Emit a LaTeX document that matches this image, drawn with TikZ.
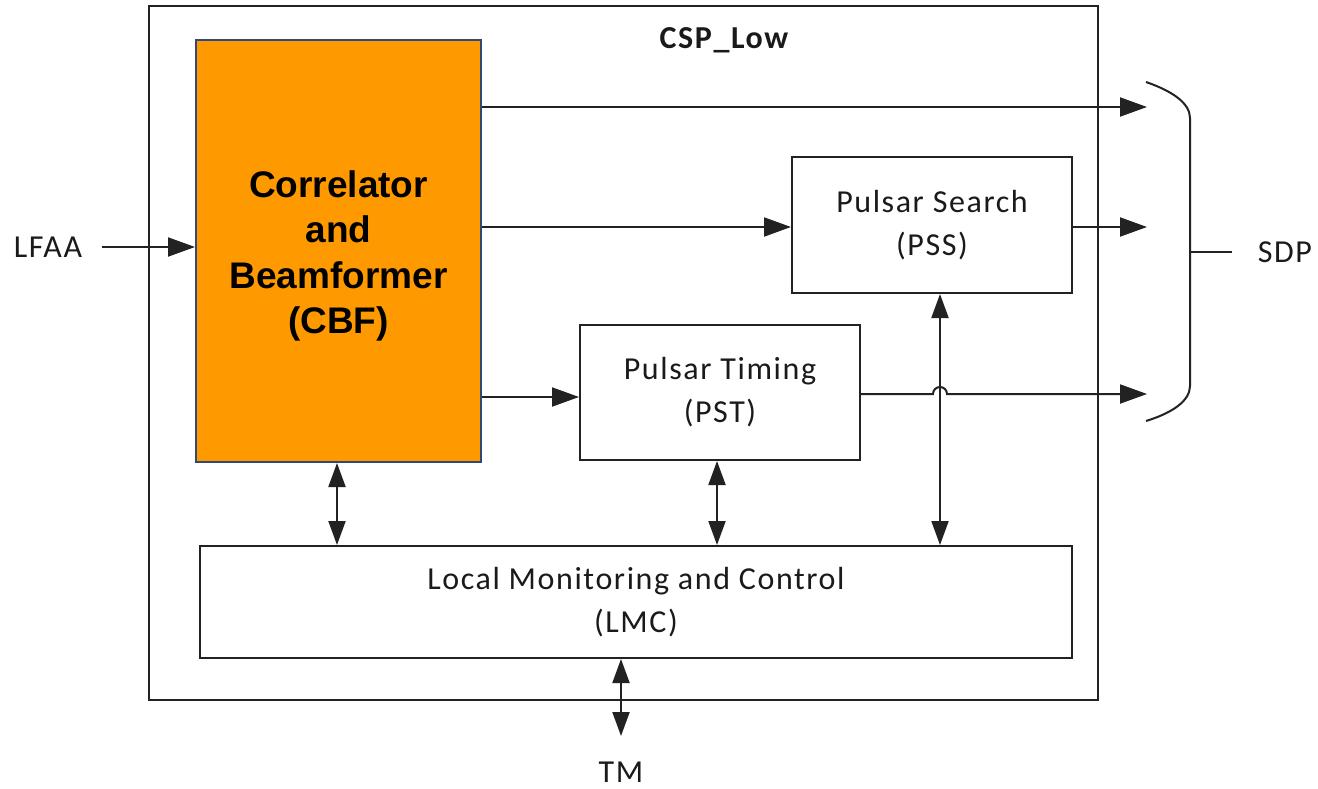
\documentclass[tikz,border=0pt]{standalone}
\usepackage{fontspec}
\setmainfont{Carlito}[LetterSpace=5]
\newfontfamily\cbffont{Liberation Sans}
\usetikzlibrary{arrows.meta,calc}
\definecolor{cbforange}{HTML}{FF9900}
\definecolor{cbfborder}{HTML}{2F4A78}
\definecolor{linec}{HTML}{222222}
\definecolor{textc}{HTML}{1A1A1A}
\tikzset{
  box/.style={draw=linec, line width=2pt, fill=white, align=center, inner sep=0pt,
    font=\fontsize{32}{43}\selectfont, text=textc},
  arr/.style={draw=linec, line width=2pt, -{Triangle[length=27pt,width=19pt]}},
  darr/.style={draw=linec, line width=2pt, {Triangle[length=24pt,width=17pt]}-{Triangle[length=24pt,width=17pt]}},
  lbl/.style={font=\fontsize{32}{36}\selectfont, text=textc, inner sep=0pt},
}
\begin{document}
\begin{tikzpicture}[x=1pt,y=-1pt]
\useasboundingbox (0,0) rectangle (1318,788);
% outer system box
\node[draw=linec, line width=2pt, minimum width=949pt, minimum height=694pt, inner sep=0pt] (csp) at (623.5,353) {};
\node[lbl, font=\fontsize{32}{36}\selectfont\bfseries] (title) at (724,40) {CSP\_Low};
% blocks
\node[box, fill=cbforange, draw=cbfborder, minimum width=285pt, minimum height=422pt,
  font=\cbffont\bfseries\fontsize{37}{45.5}\selectfont, text=black] (cbf) at (338.5,251)
  {};
\node[align=center, inner sep=0pt, font=\cbffont\bfseries\fontsize{37}{45.5}\selectfont, text=black] (cbftext) at (338.5,256)
  {Correlator\\and\\Beamformer\\(CBF)};
\node[box, minimum width=280pt, minimum height=136pt] (pss) at (932,225) {Pulsar Search\\(PSS)};
\node[box, minimum width=280pt, minimum height=135pt] (pst) at (720,392.5) {Pulsar Timing\\(PST)};
\node[box, minimum width=872pt, minimum height=112pt] (lmc) at (636,602) {Local Monitoring and Control\\(LMC)};
% external labels
\node[lbl] (lfaa) at (48,247) {LFAA};
\node[lbl] (sdp) at (1285,252) {SDP};
\node[lbl] (tm) at (621,772) {TM};
% output coordinates
\coordinate (out1) at (1147,107);
\coordinate (out2) at (1147,227);
\coordinate (out3) at (1147,394);
\coordinate (hop) at (940,394);
\coordinate (tmend) at (621,736);
\coordinate (sdptick) at (1232,252);
% connectors
\draw[arr, shorten <=20pt] (lfaa.east) -- (cbf.west |- lfaa.east);
\draw[arr] (cbf.east |- out1) -- (out1);
\draw[arr] (cbf.east |- out2) -- (pss.west |- out2);
\draw[arr] (pss.east |- out2) -- (out2);
\draw[arr] ($(cbf.east)+(0,146)$) -- ($(pst.west)+(0,4.5)$);
\draw[arr] (pst.east |- hop) -- ($(hop)+(-7,0)$) arc[start angle=180, end angle=0, radius=7pt] -- (out3);
\draw[darr] ($(cbf.south)+(-1.5,0)$) -- ($(cbf.south |- lmc.north)+(-1.5,0)$);
\draw[darr] ($(pst.south)+(-3,0)$) -- ($(pst.south |- lmc.north)+(-3,0)$);
\draw[darr] (pss.south -| hop) -- (lmc.north -| hop);
\draw[darr] (lmc.south -| tmend) -- (tmend);
% SDP brace
\coordinate (bt) at (1146,82);
\coordinate (bb) at (1146,421);
\coordinate (bm) at (1190,252);
\draw[linec, line width=2pt] (bt) .. controls (1172,91) and (1190,103) .. (1190,118) -- (1190,386) .. controls (1190,401) and (1172,413) .. (bb);
\draw[linec, line width=2pt] (bm) -- (sdptick);
\end{tikzpicture}
\end{document}
